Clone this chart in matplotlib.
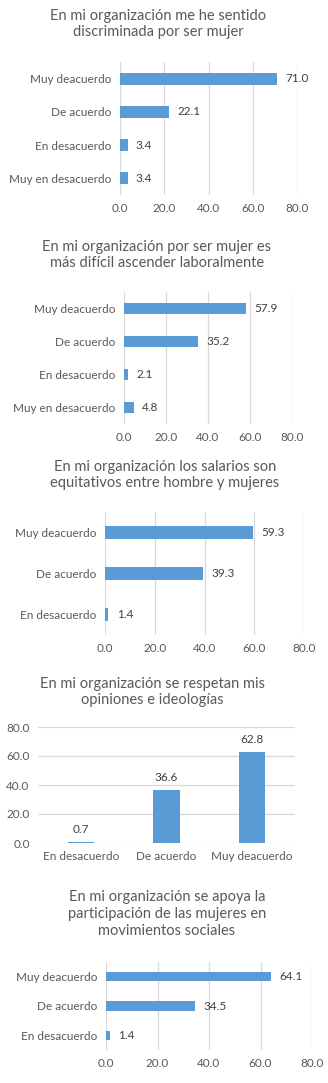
import matplotlib.pyplot as plt

plt.rcParams["font.family"] = ["Lato", "DejaVu Sans"]

W, H = 328, 1083
BLUE = "#5B9BD5"
GRID = "#D9D9D9"
TXT = "#595959"
LBL = "#404040"

# Chart data
titles = [
    "En mi organización me he sentido\ndiscriminada por ser mujer",
    "En mi organización por ser mujer es\nmás difícil ascender laboralmente",
    "En mi organización los salarios son\nequitativos entre hombre y mujeres",
    "En mi organización se respetan mis\nopiniones e ideologías",
    "En mi organización se apoya la\nparticipación de las mujeres en\nmovimientos sociales",
]
cats4 = ["Muy deacuerdo", "De acuerdo", "En desacuerdo", "Muy en desacuerdo"]
cats3 = ["Muy deacuerdo", "De acuerdo", "En desacuerdo"]
cats_col = ["En desacuerdo", "De acuerdo", "Muy deacuerdo"]

vals1 = [71.0, 22.1, 3.4, 3.4]
vals2 = [57.9, 35.2, 2.1, 4.8]
vals3 = [59.3, 39.3, 1.4]
vals4 = [0.7, 36.6, 62.8]
vals5 = [64.1, 34.5, 1.4]

ticks = [0, 20, 40, 60, 80]

fig = plt.figure(figsize=(W / 100, H / 100), dpi=100)


def px_axes(x0, y0, x1, y1):
    return fig.add_axes([x0 / W, 1 - y1 / H, (x1 - x0) / W, (y1 - y0) / H])


def title(cx, cy, s):
    fig.text(cx / W, 1 - cy / H, s, ha="center", va="center", fontsize=10.5,
             color=TXT, linespacing=1.25)


def hbar(ax, cats, vals, height):
    y = list(range(len(cats)))
    ax.barh(y, vals, height=height, color=BLUE, zorder=3)
    for yi, v in zip(y, vals):
        ax.annotate(f"{v:.1f}", (v, yi), xytext=(6, 0), textcoords="offset points",
                    va="center", ha="left", fontsize=8.5, color=LBL)
    ax.set_yticks(y)
    ax.set_yticklabels(cats)
    ax.set_ylim(len(cats) - 0.5, -0.5)
    ax.set_xlim(0, 80)
    ax.set_xticks(ticks)
    ax.set_xticklabels([f"{t:.1f}" for t in ticks])
    ax.grid(axis="x", color=GRID, linewidth=0.9, zorder=0)
    for s in ax.spines.values():
        s.set_visible(False)
    ax.tick_params(length=0, labelsize=8.5, colors=TXT, pad=6)


# Chart 1
title(158, 24, titles[0])
ax1 = px_axes(120, 62, 297, 195)
hbar(ax1, cats4, vals1, 0.36)

# Chart 2
title(157, 255, titles[1])
ax2 = px_axes(124, 292, 292, 424)
hbar(ax2, cats4, vals2, 0.36)

# Chart 3
title(165, 475, titles[2])
ax3 = px_axes(105, 512, 304, 635)
hbar(ax3, cats3, vals3, 0.34)

# Chart 4 (columns)
title(152, 692, titles[3])
ax4 = px_axes(38, 727, 295, 843)
x = list(range(len(cats_col)))
ax4.bar(x, vals4, width=0.31, color=BLUE, zorder=3)
for xi, v in zip(x, vals4):
    ax4.annotate(f"{v:.1f}", (xi, v), xytext=(0, 5), textcoords="offset points",
                 ha="center", va="bottom", fontsize=8.5, color=LBL)
ax4.set_xticks(x)
ax4.set_xticklabels(cats_col)
ax4.set_xlim(-0.5, 2.5)
ax4.set_ylim(0, 80)
ax4.set_yticks(ticks)
ax4.set_yticklabels([f"{t:.1f}" for t in ticks])
ax4.grid(axis="y", color=GRID, linewidth=0.9, zorder=0)
for s in ax4.spines.values():
    s.set_visible(False)
ax4.tick_params(length=0, labelsize=8.5, colors=TXT, pad=6)

# Chart 5
title(167, 914, titles[4])
ax5 = px_axes(106, 962, 312, 1050)
hbar(ax5, cats3, vals5, 0.32)

fig.savefig("out.png", dpi=100)
